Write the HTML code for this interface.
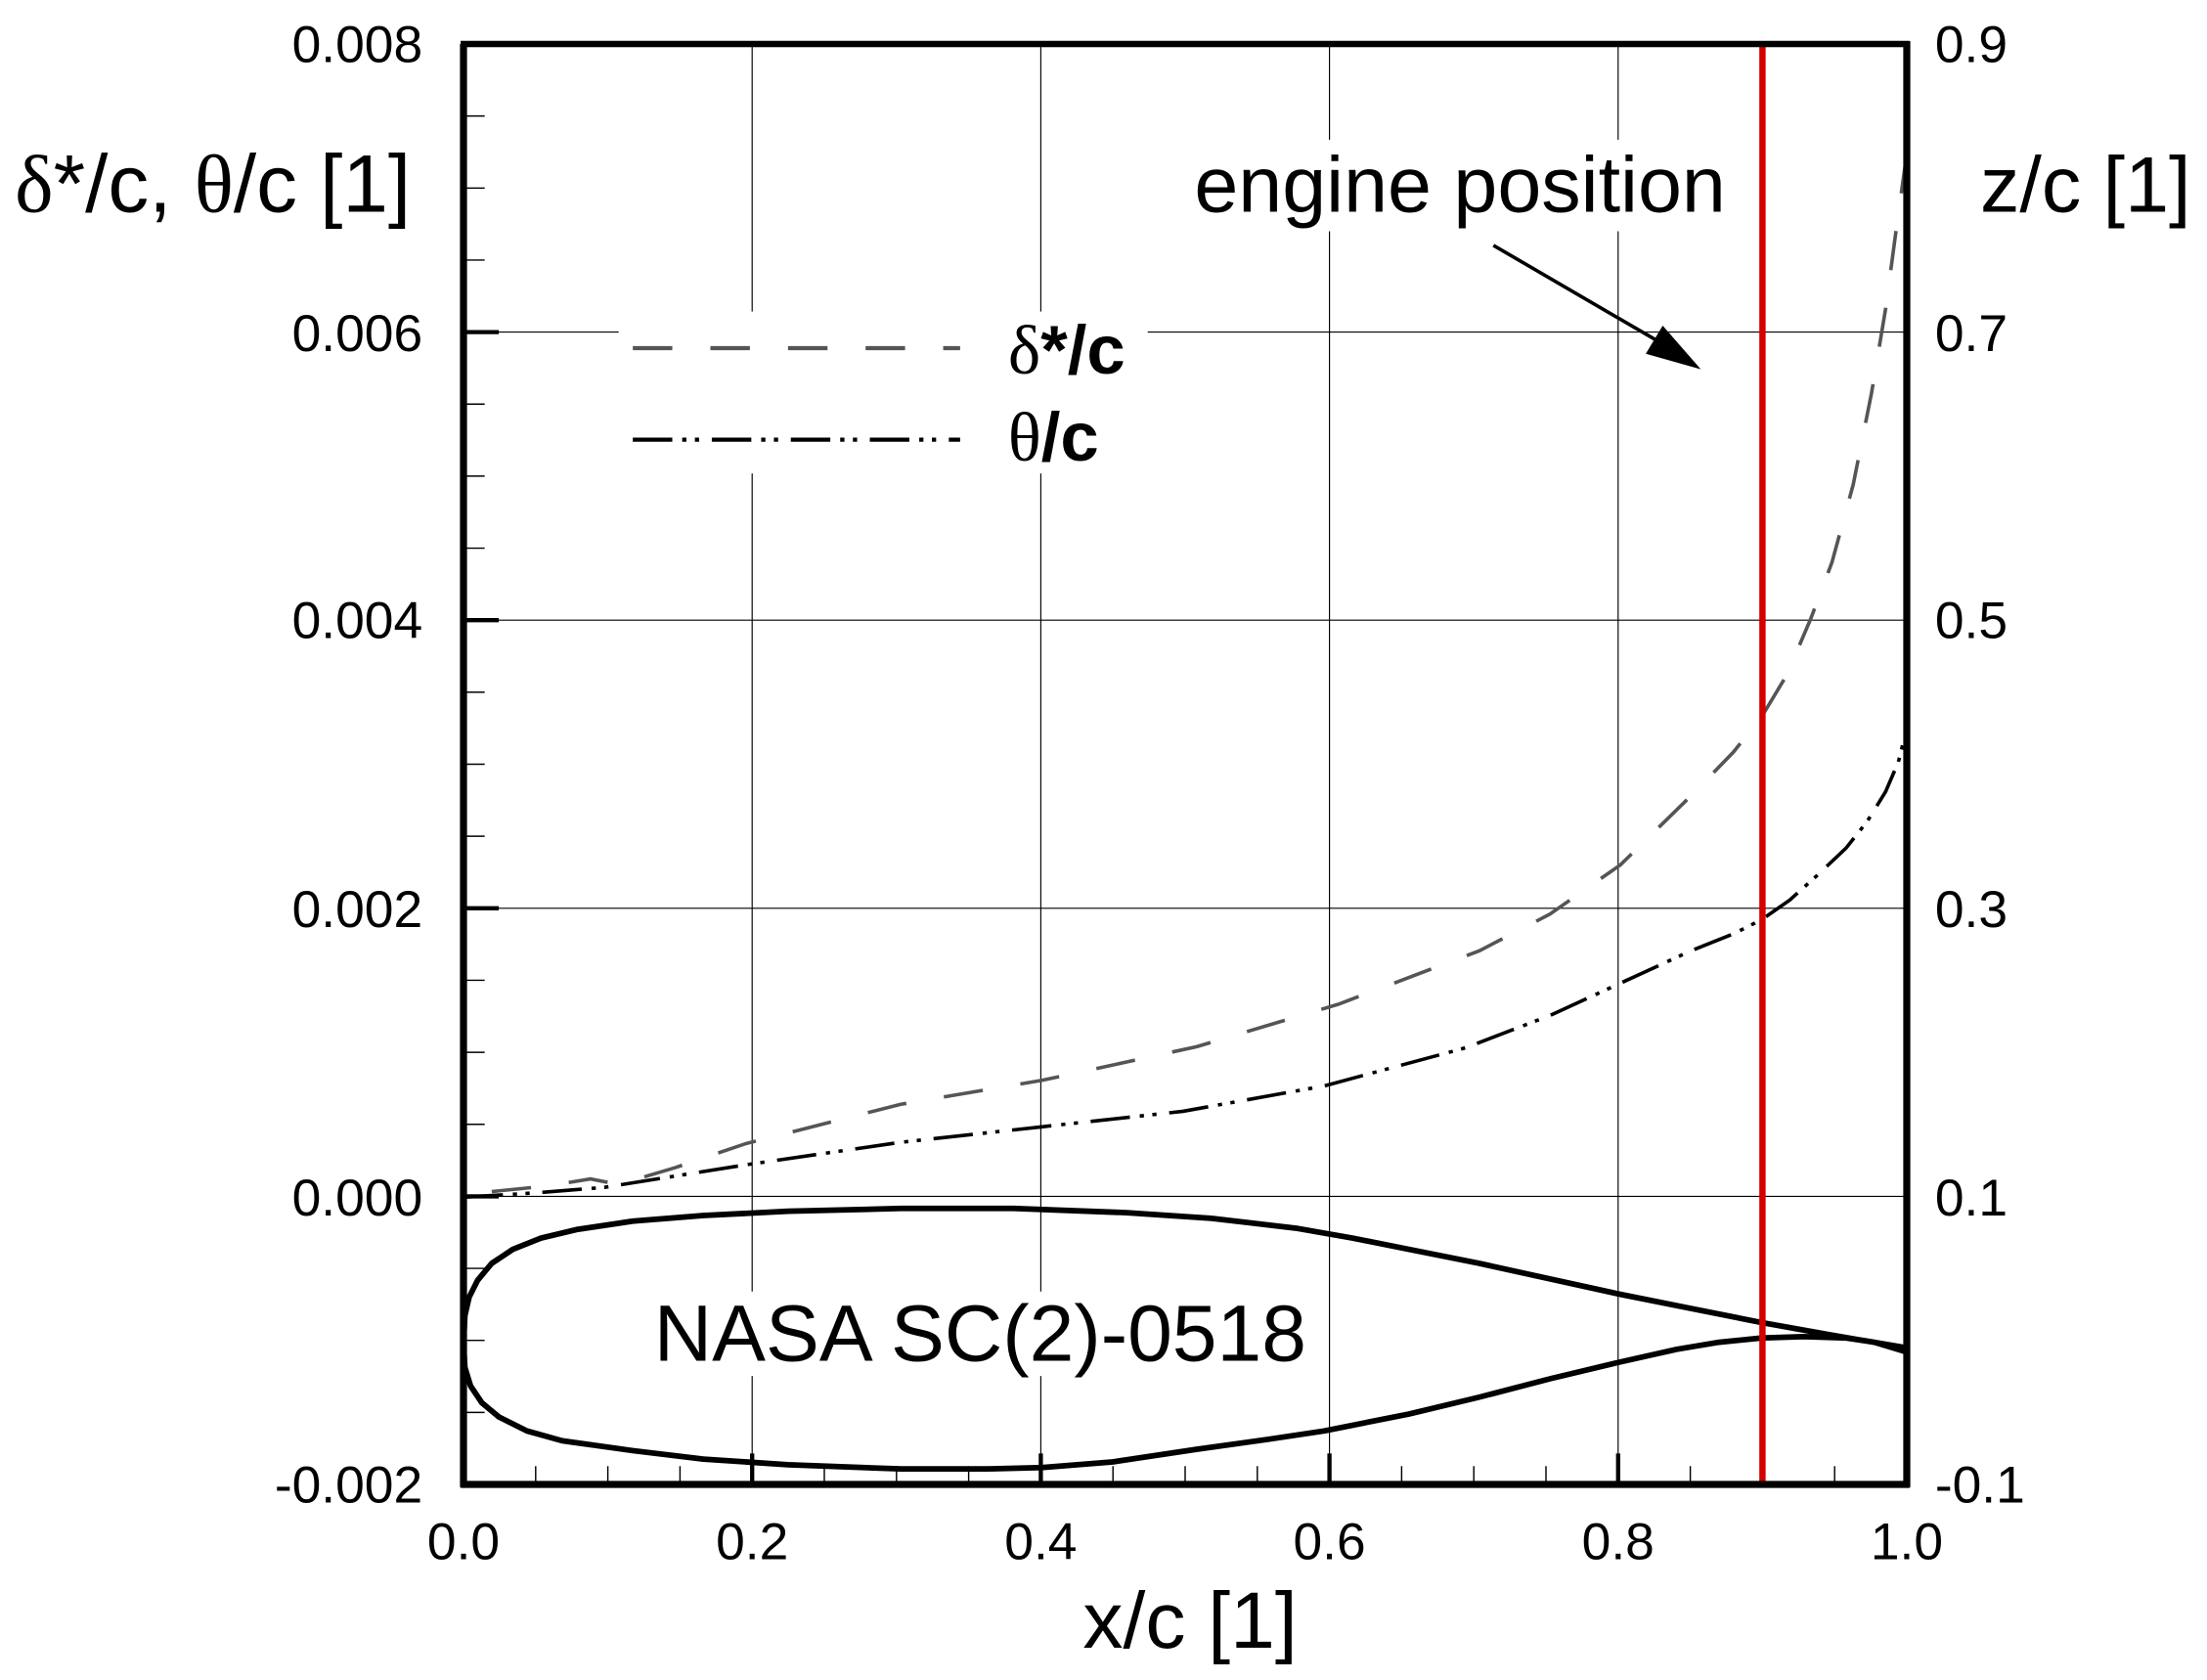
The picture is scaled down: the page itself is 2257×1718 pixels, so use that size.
<!DOCTYPE html>
<html><head><meta charset="utf-8"><style>html,body{margin:0;padding:0;background:#fff;}svg{display:block}</style></head>
<body>
<svg width="2257" height="1718" viewBox="0 0 2257 1718" xmlns="http://www.w3.org/2000/svg">
<rect width="2257" height="1718" fill="#fff"/>
<g transform="translate(-2.12,-1.08) scale(1.4428,1.4399)" font-family="Liberation Sans, Arial, sans-serif">
<g stroke="#000" stroke-width="0.8">
<line x1="534.6" y1="32" x2="534.6" y2="1055"/>
<line x1="739.2" y1="32" x2="739.2" y2="1055"/>
<line x1="943.8" y1="32" x2="943.8" y2="1055"/>
<line x1="1148.4" y1="32" x2="1148.4" y2="1055"/>
<line x1="330" y1="236.6" x2="1353" y2="236.6"/>
<line x1="330" y1="441.2" x2="1353" y2="441.2"/>
<line x1="330" y1="645.8" x2="1353" y2="645.8"/>
<line x1="330" y1="850.4" x2="1353" y2="850.4"/>
</g>
<rect x="440" y="222" width="375" height="115" fill="#fff"/>
<rect x="840" y="100" width="400" height="65" fill="#fff"/>
<rect x="460" y="918" width="480" height="60" fill="#fff"/>
<g stroke="#000" stroke-width="1">
<line x1="330" y1="83.15" x2="345" y2="83.15"/><line x1="330" y1="134.3" x2="345" y2="134.3"/><line x1="330" y1="185.45" x2="345" y2="185.45"/>
<line x1="330" y1="287.75" x2="345" y2="287.75"/><line x1="330" y1="338.9" x2="345" y2="338.9"/><line x1="330" y1="390.05" x2="345" y2="390.05"/>
<line x1="330" y1="492.35" x2="345" y2="492.35"/><line x1="330" y1="543.5" x2="345" y2="543.5"/><line x1="330" y1="594.65" x2="345" y2="594.65"/>
<line x1="330" y1="696.95" x2="345" y2="696.95"/><line x1="330" y1="748.1" x2="345" y2="748.1"/><line x1="330" y1="799.25" x2="345" y2="799.25"/>
<line x1="330" y1="901.55" x2="345" y2="901.55"/><line x1="330" y1="952.7" x2="345" y2="952.7"/><line x1="330" y1="1003.85" x2="345" y2="1003.85"/>
</g>
<g stroke="#000" stroke-width="3">
<line x1="330" y1="236.6" x2="355" y2="236.6"/><line x1="330" y1="441.2" x2="355" y2="441.2"/><line x1="330" y1="645.8" x2="355" y2="645.8"/><line x1="330" y1="850.4" x2="355" y2="850.4"/>
</g>
<g stroke="#000" stroke-width="1">
<line x1="381.15" y1="1055" x2="381.15" y2="1042"/><line x1="432.3" y1="1055" x2="432.3" y2="1042"/><line x1="483.45" y1="1055" x2="483.45" y2="1042"/>
<line x1="585.75" y1="1055" x2="585.75" y2="1042"/><line x1="636.9" y1="1055" x2="636.9" y2="1042"/><line x1="688.05" y1="1055" x2="688.05" y2="1042"/>
<line x1="790.35" y1="1055" x2="790.35" y2="1042"/><line x1="841.5" y1="1055" x2="841.5" y2="1042"/><line x1="892.65" y1="1055" x2="892.65" y2="1042"/>
<line x1="994.95" y1="1055" x2="994.95" y2="1042"/><line x1="1046.1" y1="1055" x2="1046.1" y2="1042"/><line x1="1097.25" y1="1055" x2="1097.25" y2="1042"/>
<line x1="1199.55" y1="1055" x2="1199.55" y2="1042"/><line x1="1250.7" y1="1055" x2="1250.7" y2="1042"/><line x1="1301.85" y1="1055" x2="1301.85" y2="1042"/>
</g>
<g stroke="#000" stroke-width="3">
<line x1="534.6" y1="1055" x2="534.6" y2="1033"/><line x1="739.2" y1="1055" x2="739.2" y2="1033"/><line x1="943.8" y1="1055" x2="943.8" y2="1033"/><line x1="1148.4" y1="1055" x2="1148.4" y2="1033"/>
</g>
<path d="M1353,958 L1300,949 L1250,940 L1200,930 L1150,920 L1100,909 L1050,898 L1000,888 L960,880 L920,873 L860,866 L800,862 L720,859 L640,859 L560,861 L500,864 L450,868 L410,874 L385,880 L365,888 L350,898 L340,910 L334,922 L331,935 L330,955 L331,972 L335,985 L343,997 L355,1007 L375,1017 L400,1024 L450,1031 L500,1037 L560,1041 L640,1044 L700,1044 L740,1043 L790,1039 L850,1030 L900,1023 L940,1017 L1000,1005 L1050,993 L1100,980 L1150,968 L1190,959 L1220,954 L1250,951 L1280,950 L1310,951 L1330,954 L1353,961" fill="none" stroke="#000" stroke-width="4" stroke-linejoin="round"/>
<path d="M330,851 L380,848 L430,844 L480,836 L530,828 L640,812 L740,801 L840,790 L940,772 L1040,745 L1100,722 L1150,699 L1200,676 L1230,664 L1250,654 L1270,640 L1290,622 L1310,603 L1325,584 L1338,563 L1347,542 L1353,518" fill="none" stroke="#000" stroke-width="2.5" stroke-dasharray="28 7 3 6 3 9"/>
<path d="M350,847 L390,843 L420,838 L440,842 L480,830 L530,813 L640,785 L740,768 L800,755 L850,744 L950,714 L1050,676 L1100,650 L1150,615 L1200,566 L1230,535 L1250,510 L1268,480 L1285,440 L1300,400 L1315,345 L1328,280 L1338,220 L1346,160 L1353,110" fill="none" stroke="#555" stroke-width="2.5" stroke-dasharray="28 27"/>
<line x1="1250.7" y1="32" x2="1250.7" y2="1055" stroke="#d40000" stroke-width="4.5"/>
<line x1="1060" y1="175" x2="1180" y2="245" stroke="#000" stroke-width="2.5"/>
<polygon points="1207,263 1168,252 1180,232" fill="#000"/>
<line x1="330" y1="32" x2="330" y2="1057" stroke="#000" stroke-width="5"/>
<line x1="328" y1="32" x2="1355" y2="32" stroke="#000" stroke-width="4.5"/>
<line x1="1353" y1="30" x2="1353" y2="1057" stroke="#000" stroke-width="5"/>
<line x1="328" y1="1055" x2="1355" y2="1055" stroke="#000" stroke-width="5"/>
<line x1="450" y1="248" x2="682" y2="248" stroke="#555" stroke-width="3" stroke-dasharray="28 27"/>
<line x1="450" y1="313" x2="682" y2="313" stroke="#000" stroke-width="3" stroke-dasharray="28 7 3 6 3 9"/>
<text x="716" y="266" font-size="49" font-weight="bold"><tspan font-family="Liberation Serif, serif" font-weight="normal">δ</tspan>*/c</text>
<text x="716" y="328" font-size="49" font-weight="bold"><tspan font-family="Liberation Serif, serif" font-weight="normal">θ</tspan>/c</text>
<text x="848" y="151" font-size="56">engine position</text>
<text x="465" y="967" font-size="57">NASA SC(2)-0518</text>
<text x="12" y="151" font-size="58"><tspan font-family="Liberation Serif, serif">δ</tspan>*/c, <tspan font-family="Liberation Serif, serif">θ</tspan>/c [1]</text>
<text x="1405" y="151" font-size="56">z/c [1]</text>
<text x="845" y="1171" font-size="57" text-anchor="middle">x/c [1]</text>
<g font-size="37" text-anchor="end">
<text x="301" y="45">0.008</text><text x="301" y="250">0.006</text><text x="301" y="454">0.004</text><text x="301" y="659">0.002</text><text x="301" y="864">0.000</text><text x="301" y="1068">-0.002</text>
</g>
<g font-size="37">
<text x="1373" y="45">0.9</text><text x="1373" y="250">0.7</text><text x="1373" y="454">0.5</text><text x="1373" y="659">0.3</text><text x="1373" y="864">0.1</text><text x="1373" y="1068">-0.1</text>
</g>
<g font-size="37" text-anchor="middle">
<text x="330" y="1108">0.0</text><text x="534.6" y="1108">0.2</text><text x="739.2" y="1108">0.4</text><text x="943.8" y="1108">0.6</text><text x="1148.4" y="1108">0.8</text><text x="1353" y="1108">1.0</text>
</g>
</g>
</svg>
</body></html>
